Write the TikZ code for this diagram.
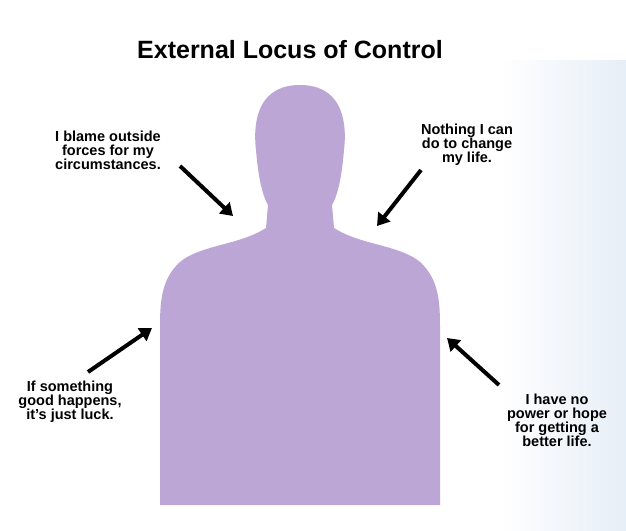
\documentclass[tikz,border=0pt]{standalone}
\usepackage{fontspec}
\setmainfont{Liberation Sans}
\definecolor{body}{HTML}{BCA6D6}
\definecolor{sky}{HTML}{E6EEF7}
\begin{document}
\begin{tikzpicture}[x=1pt,y=-1pt,
  txt/.style={align=center,font=\bfseries\fontsize{14.5}{14}\selectfont},
  arr/.style={line width=4pt,-{Triangle[length=12pt,width=15pt]}}]
\usetikzlibrary{arrows.meta}
\useasboundingbox (0,0) rectangle (626,530);
\fill[white] (0,0) rectangle (626,530);
\shade[left color=white,right color=sky] (500,60) rectangle (626,530);
%title
\node[font=\bfseries\fontsize{25}{27}\selectfont] (title) at (290,50) {External Locus of Control};
%silhouette
\fill[body] (300,85) .. controls (262,85) and (252,115) .. (256,150)
  .. controls (258,175) and (262,195) .. (268,205) -- (266,228)
  .. controls (240,245) and (200,245) .. (180,262)
  .. controls (160,280) and (160,305) .. (160,330) -- (160,505) -- (440,505)
  -- (440,330) .. controls (440,305) and (440,280) .. (420,262)
  .. controls (400,245) and (360,245) .. (334,228) -- (332,205)
  .. controls (338,195) and (342,175) .. (344,150)
  .. controls (348,115) and (338,85) .. (300,85) -- cycle;
%texts
\node[txt] (t1) at (108,150) {I blame outside\\forces for my\\circumstances.};
\node[txt] (t2) at (467,145) {Nothing I can\\do to change\\my life.};
\node[txt] (t3) at (70,402) {If something\\good happens,\\it’s just luck.};
\node[txt] (t4) at (557,420) {I have no\\power or hope\\for getting a\\better life.};
%arrows
\coordinate (a1) at (233,216); \coordinate (a2) at (377,226);
\coordinate (a3) at (152,328); \coordinate (a4) at (447,338);
\draw[arr] (180,166) -- (a1);
\draw[arr] (421,170) -- (a2);
\draw[arr] (88,372) -- (a3);
\draw[arr] (499,385) -- (a4);
\end{tikzpicture}
\end{document}
